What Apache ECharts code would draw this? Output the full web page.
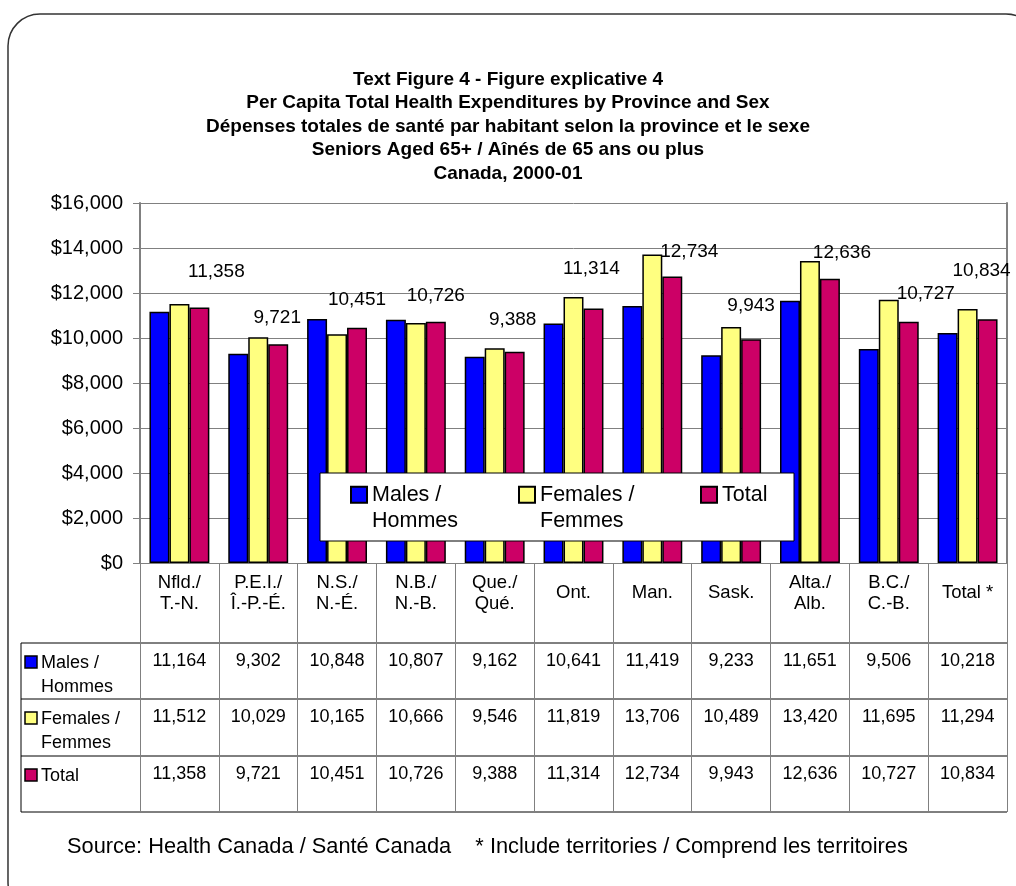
<!DOCTYPE html>
<html>
<head>
<meta charset="utf-8">
<script src="https://cdn.jsdelivr.net/npm/echarts@6/dist/echarts.min.js"></script>
<style>
  html, body { margin: 0; padding: 0; background: #fff; }
  #chart { width: 1016px; height: 886px; }
</style>
</head>
<body>
<div id="chart"></div>
<script>
// categories and values (from the table under the chart)
const categories = ['Nfld./\nT.-N.', 'P.E.I./\nÎ.-P.-É.', 'N.S./\nN.-É.', 'N.B./\nN.-B.', 'Que./\nQué.',
  'Ont.', 'Man.', 'Sask.', 'Alta./\nAlb.', 'B.C./\nC.-B.', 'Total *'];
const males = [11164, 9302, 10848, 10807, 9162, 10641, 11419, 9233, 11651, 9506, 10218];
const females = [11512, 10029, 10165, 10666, 9546, 11819, 13706, 10489, 13420, 11695, 11294];
const totals = [11358, 9721, 10451, 10726, 9388, 11314, 12734, 9943, 12636, 10727, 10834];
const seriesNames = ['Males /\nHommes', 'Females /\nFemmes', 'Total'];
const yMin = 0, yMax = 16000, yStep = 2000;

const colors = ['#0000FF', '#FFFF80', '#CC0066'];
// label nudges so the total labels sit where Excel put them
const labelOffsets = [[17, -21], [-1, -12], [0, -14], [0, -11], [-2, -18], [-2, -25],
  [17, -10], [0, -19], [12, -11], [17, -13], [-6, -34]];

const FONT = '"Liberation Sans", Arial, sans-serif';
const fmt = v => Number(v).toLocaleString('en-US');
const rows = [males, females, totals];
const rowOffsets = [98, 154, 211];

const chart = echarts.init(document.getElementById('chart'));

const tableGraphic = [];
// row lines of the data table
[643, 699, 756, 812].forEach(y => {
  tableGraphic.push({ type: 'line', shape: { x1: 21, y1: y, x2: 1007, y2: y },
    style: { stroke: '#000', lineWidth: 1 }, silent: true });
});
tableGraphic.push({ type: 'line', shape: { x1: 21, y1: 643, x2: 21, y2: 812 },
  style: { stroke: '#000', lineWidth: 1 }, silent: true });
// row headers
[656, 712, 769].forEach((y, i) => {
  tableGraphic.push({ type: 'rect', shape: { x: 25, y: y, width: 12, height: 12 },
    style: { fill: colors[i], stroke: '#000', lineWidth: 1.5 }, silent: true });
  tableGraphic.push({ type: 'text', x: 41, y: y - 5,
    style: { text: seriesNames[i], font: '18px ' + FONT, fill: '#000', lineHeight: 24 }, silent: true });
});

const option = {
  backgroundColor: '#fff',
  animation: false,
  textStyle: { fontFamily: FONT },
  title: {
    text: 'Text Figure 4 - Figure explicative 4\nPer Capita Total Health Expenditures by Province and Sex\nDépenses totales de santé par habitant selon la province et le sexe\nSeniors Aged 65+ / Aînés de 65 ans ou plus\nCanada, 2000-01',
    left: 'center',
    top: 68,
    padding: 0,
    textStyle: { fontFamily: FONT, fontSize: 19, fontWeight: 'bold', color: '#000', lineHeight: 23.5 },
  },
  legend: {
    left: 350,
    top: 455,
    padding: 0,
    itemGap: 0,
    itemWidth: 16,
    itemHeight: 16,
    icon: 'rect',
    // blank first line so the first text line sits level with the icon, like Excel
    formatter: name => ' \n' + (name.indexOf('\n') >= 0 ? name : name + '\n '),
    textStyle: { fontFamily: FONT, fontSize: 21.5, color: '#000', lineHeight: 26.5 },
    data: [
      { name: seriesNames[0], textStyle: { width: 146 } },
      { name: seriesNames[1], textStyle: { width: 160 } },
      { name: seriesNames[2] },
    ],
  },
  grid: { left: 140, right: 9, top: 203, bottom: 323, containLabel: false },
  xAxis: [
    {
      type: 'category',
      data: categories,
      position: 'bottom',
      axisLine: { show: true, lineStyle: { color: '#808080', width: 1 } },
      axisTick: { show: true, interval: 0, length: 249, lineStyle: { color: '#808080', width: 1 } },
      axisLabel: { interval: 0, margin: 30, verticalAlign: 'middle', fontSize: 18.5, lineHeight: 21,
        color: '#000', fontFamily: FONT },
      splitLine: { show: false },
    },
  ].concat(rows.map((r, k) => ({
    type: 'category',
    data: categories,
    position: 'bottom',
    offset: rowOffsets[k],
    axisLine: { show: false },
    axisTick: { show: false },
    axisLabel: { interval: 0, margin: 0, verticalAlign: 'middle', fontSize: 18, color: '#000',
      fontFamily: FONT, formatter: (v, i) => fmt(r[i]) },
  }))),
  yAxis: [
    {
      type: 'value',
      min: yMin,
      max: yMax,
      interval: yStep,
      axisLine: { show: true, lineStyle: { color: '#808080', width: 2 } },
      axisTick: { show: true, inside: false, length: 7, lineStyle: { color: '#808080' } },
      axisLabel: { margin: 17, fontSize: 20, color: '#000', fontFamily: FONT,
        formatter: v => '$' + fmt(v) },
      splitLine: { show: true, lineStyle: { color: '#808080', width: 1 } },
    },
    {
      type: 'value',
      position: 'right',
      min: yMin,
      max: yMax,
      interval: yStep,
      axisLine: { show: true, lineStyle: { color: '#808080', width: 2 } },
      axisTick: { show: false },
      axisLabel: { show: false },
      splitLine: { show: false },
    },
  ],
  series: [
    {
      name: seriesNames[0], type: 'bar', data: males,
      barGap: '0%', barCategoryGap: '24%',
      itemStyle: { color: colors[0], borderColor: '#000', borderWidth: 1.5 },
    },
    {
      name: seriesNames[1], type: 'bar', data: females,
      itemStyle: { color: colors[1], borderColor: '#000', borderWidth: 1.5 },
    },
    {
      name: seriesNames[2], type: 'bar',
      data: totals.map((v, i) => ({ value: v, label: { offset: labelOffsets[i] } })),
      itemStyle: { color: colors[2], borderColor: '#000', borderWidth: 1.5 },
      label: { show: true, position: 'top', distance: 5, fontSize: 19, color: '#000',
        fontFamily: FONT, formatter: p => fmt(p.value) },
    },
  ],
  graphic: [
    { type: 'rect', shape: { x: 8, y: 14, width: 1030, height: 900, r: 32 },
      style: { fill: 'none', stroke: '#333', lineWidth: 1.5 }, silent: true, z: 100 },
    // legend frame
    { type: 'rect', shape: { x: 320, y: 473, width: 474, height: 68 },
      style: { fill: '#fff', stroke: '#000', lineWidth: 1 }, silent: true, z: 3 },
    { type: 'text', x: 67, y: 836,
      style: { text: 'Source: Health Canada / Santé Canada    * Include territories / Comprend les territoires',
        font: '21.8px ' + FONT, fill: '#000' }, silent: true },
  ].concat(tableGraphic),
};

chart.setOption(option);
</script>
</body>
</html>
